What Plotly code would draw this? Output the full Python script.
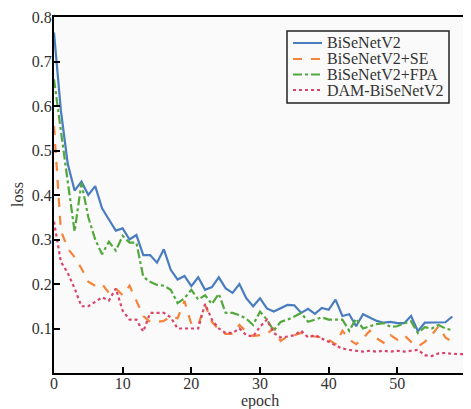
import plotly.graph_objects as go

epochs_main = list(range(0, 59))
epochs_dam = list(range(0, 61))

bisenet = [0.765, 0.59, 0.47, 0.41, 0.43, 0.40, 0.42, 0.37, 0.345, 0.32,
           0.325, 0.30, 0.31, 0.265, 0.265, 0.248, 0.278, 0.232, 0.21, 0.218,
           0.195, 0.215, 0.187, 0.193, 0.215, 0.19, 0.18, 0.20, 0.168, 0.15,
           0.168, 0.145, 0.138, 0.146, 0.153, 0.152, 0.135, 0.144, 0.133, 0.146,
           0.142, 0.165, 0.128, 0.132, 0.105, 0.132, 0.124, 0.117, 0.113, 0.115,
           0.112, 0.112, 0.128, 0.094, 0.113, 0.113, 0.114, 0.114, 0.127]

bisenet_se = [0.555, 0.32, 0.28, 0.26, 0.235, 0.205, 0.196, 0.20, 0.18, 0.19,
              0.175, 0.196, 0.162, 0.128, 0.115, 0.115, 0.117, 0.128, 0.123, 0.162,
              0.11, 0.108, 0.153, 0.115, 0.097, 0.088, 0.088, 0.108, 0.093, 0.083,
              0.085, 0.088, 0.10, 0.072, 0.082, 0.085, 0.09, 0.085, 0.082, 0.08,
              0.075, 0.065, 0.095, 0.075, 0.065, 0.078, 0.095, 0.078, 0.068, 0.085,
              0.075, 0.085, 0.07, 0.06, 0.07, 0.085, 0.105, 0.08, 0.07]

bisenet_fpa = [0.66, 0.54, 0.43, 0.318, 0.427, 0.35, 0.30, 0.267, 0.295, 0.275,
               0.308, 0.293, 0.293, 0.216, 0.205, 0.198, 0.196, 0.187, 0.157, 0.168,
               0.187, 0.165, 0.175, 0.155, 0.178, 0.135, 0.135, 0.13, 0.122, 0.108,
               0.138, 0.12, 0.095, 0.115, 0.12, 0.127, 0.135, 0.115, 0.12, 0.125,
               0.12, 0.12, 0.12, 0.095, 0.122, 0.10, 0.105, 0.11, 0.112, 0.104,
               0.105, 0.112, 0.116, 0.09, 0.103, 0.10, 0.108, 0.10, 0.096]

dam_bisenet = [0.34, 0.25, 0.225, 0.19, 0.15, 0.15, 0.16, 0.17, 0.163, 0.19,
               0.14, 0.12, 0.12, 0.093, 0.135, 0.135, 0.135, 0.125, 0.10, 0.10,
               0.10, 0.10, 0.155, 0.12, 0.10, 0.09, 0.09, 0.10, 0.085, 0.082,
               0.104, 0.12, 0.09, 0.08, 0.082, 0.085, 0.095, 0.08, 0.085, 0.078,
               0.07, 0.062, 0.055, 0.052, 0.05, 0.048, 0.05, 0.048, 0.05, 0.048,
               0.05, 0.048, 0.05, 0.052, 0.04, 0.038, 0.044, 0.045, 0.043, 0.043,
               0.042]

series_names = ["BiSeNetV2", "BiSeNetV2+SE", "BiSeNetV2+FPA", "DAM-BiSeNetV2"]
series_colors = ["#4a7cc0", "#f5843a", "#52a83c", "#d9456a"]
series_dash = ["solid", "dash", "dashdot", "dot"]
x_ticks = [0, 10, 20, 30, 40, 50, 60]
y_ticks = [0.1, 0.2, 0.3, 0.4, 0.5, 0.6, 0.7, 0.8]

font_family = "Liberation Serif, Times New Roman, serif"

# The page body has an 8px default margin; size the figure so it fills the window.
OFF = 8
W, H = 471 - OFF, 409 - OFF
ML, MR, MT, MB = 54 - OFF, 5, 17 - OFF, 36
PW, PH = W - ML - MR, H - MT - MB


def px_x(px):
    return (px - OFF - ML) / PW


def px_y(py):
    return (H - MB - (py - OFF)) / PH


fig = go.Figure()
all_x = [epochs_main, epochs_main, epochs_main, epochs_dam]
all_y = [bisenet, bisenet_se, bisenet_fpa, dam_bisenet]
for xs, ys, name, col, dash in zip(all_x, all_y, series_names, series_colors, series_dash):
    fig.add_trace(go.Scatter(x=xs, y=ys, mode="lines", name=name, showlegend=False,
                             line=dict(color=col, width=2.2, dash=dash)))

# Legend box drawn to match the compact reference legend
shapes = [dict(type="rect", xref="paper", yref="paper",
               x0=px_x(287), x1=px_x(449), y0=px_y(103), y1=px_y(31),
               line=dict(color="#222222", width=1.5), fillcolor="rgba(0,0,0,0)")]
annotations = []
row_y = [43, 59, 74.5, 90]
for i, (name, col, dash) in enumerate(zip(series_names, series_colors, series_dash)):
    shapes.append(dict(type="line", xref="paper", yref="paper",
                       x0=px_x(293), x1=px_x(322), y0=px_y(row_y[i]), y1=px_y(row_y[i]),
                       line=dict(color=col, width=2, dash=dash)))
    annotations.append(dict(xref="paper", yref="paper", x=px_x(325), y=px_y(row_y[i]),
                            xanchor="left", yanchor="middle", showarrow=False, text=name,
                            font=dict(family=font_family, size=16, color="#333333")))

# axis titles
annotations.append(dict(xref="paper", yref="paper", x=px_x(260), y=px_y(401),
                        xanchor="center", yanchor="middle", showarrow=False, text="epoch",
                        font=dict(family=font_family, size=16, color="#333333")))
annotations.append(dict(xref="paper", yref="paper", x=px_x(17), y=px_y(195),
                        xanchor="center", yanchor="middle", showarrow=False, text="loss",
                        textangle=-90,
                        font=dict(family=font_family, size=16, color="#333333")))

fig.update_layout(
    width=W, height=H,
    margin=dict(l=ML, r=MR, t=MT, b=MB),
    paper_bgcolor="white",
    plot_bgcolor="#fafafa",
    font=dict(family=font_family, size=16, color="#333333"),
    showlegend=False,
    shapes=shapes,
    annotations=annotations,
    xaxis=dict(
        range=[0, 60], tickvals=x_ticks, ticks="inside", ticklen=6, tickwidth=1.5,
        tickcolor="black", showline=True, linecolor="black", linewidth=2, mirror=True,
        showgrid=False, zeroline=False, automargin=False, ticklabelstandoff=-5,
        tickfont=dict(size=16),
    ),
    yaxis=dict(
        range=[0, 0.8], tickvals=y_ticks, ticks="inside", ticklen=6, tickwidth=1.5,
        tickcolor="black", showline=True, linecolor="black", linewidth=2, mirror=True,
        showgrid=False, zeroline=False, automargin=False, ticklabelstandoff=-3,
        tickfont=dict(size=16), tickformat=".1f",
    ),
)

fig.write_html("out.html")
